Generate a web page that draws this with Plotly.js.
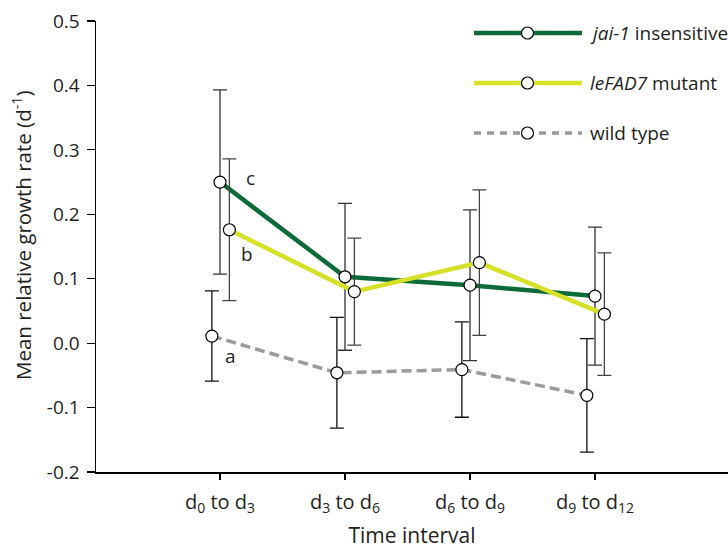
<!DOCTYPE html>
<html>
<head>
<meta charset="utf-8">
<script src="https://cdn.plot.ly/plotly-3.0.1.min.js"></script>
<style>html,body{margin:0;padding:0;background:#fff;}#chart{width:728px;height:549px;}</style>
</head>
<body>
<div id="chart"></div>
<script>
// ---- data ----
const categories = ['d<sub>0</sub> to d<sub>3</sub>', 'd<sub>3</sub> to d<sub>6</sub>', 'd<sub>6</sub> to d<sub>9</sub>', 'd<sub>9</sub> to d<sub>12</sub>'];
const jaiMean = [0.250, 0.103, 0.090, 0.073];
const jaiErr  = [0.143, 0.114, 0.117, 0.107];
const fadMean = [0.176, 0.080, 0.125, 0.045];
const fadErr  = [0.110, 0.083, 0.113, 0.095];
const wtMean  = [0.011, -0.046, -0.041, -0.081];
const wtErr   = [0.070, 0.086, 0.074, 0.088];
const sigLetters = ['c', 'b', 'a'];
const yTicks = [-0.2, -0.1, 0.0, 0.1, 0.2, 0.3, 0.4, 0.5];
const legendNames = ['<i>jai-1</i> insensitive', '<i>leFAD7</i> mutant', 'wild type'];
const yTitle = 'Mean relative growth rate (d<sup>-1</sup>)';
const xTitle = 'Time interval';

// ---- styles ----
const FONT = 'Open Sans, Lato, sans-serif';
const TXT = '#231f20';
const cGreen = '#0c6b38', cYellow = '#d6e026', cGray = '#9b9b9b';
const idx = categories.map((_, i) => i);
const offJai = 0, offFad = 0.075, offWt = -0.065;

function marker() { return {symbol: 'circle', size: 12, color: '#ffffff', line: {color: '#000000', width: 1.2}}; }
function err(arr, col) { return {type: 'data', array: arr, visible: true, color: col, thickness: 1.3, width: 7}; }

const traces = [
  {x: idx.map(i => i + offWt), y: wtMean, mode: 'lines+markers', line: {color: cGray, width: 3.5, dash: '10px,5px'},
   marker: marker(), error_y: err(wtErr, '#111'), showlegend: false, hoverinfo: 'y'},
  {x: idx.map(i => i + offJai), y: jaiMean, mode: 'lines+markers', line: {color: cGreen, width: 4.5},
   marker: marker(), error_y: err(jaiErr, '#333'), showlegend: false, hoverinfo: 'y'},
  {x: idx.map(i => i + offFad), y: fadMean, mode: 'lines+markers', line: {color: cYellow, width: 4.5},
   marker: marker(), error_y: err(fadErr, '#444'), showlegend: false, hoverinfo: 'y'}
];

// plot area geometry in px (for legend placement)
const W = 728, H = 549, mL = 96, mR = 0, mT = 21, mB = 77;
const pw = W - mL - mR, ph = H - mT - mB;
const px = v => (v - mL) / pw;
const py = v => (H - mB - v) / ph;

const legColors = [cGreen, cYellow, cGray];
const legWidths = [4.5, 4.5, 3.5];
const legDash = ['solid', 'solid', '7px,6px'];
const legY = [33, 83, 133];
const shapes = [], annotations = [];
legendNames.forEach((name, k) => {
  shapes.push({type: 'line', xref: 'paper', yref: 'paper', x0: px(474), x1: px(582), y0: py(legY[k]), y1: py(legY[k]),
    line: {color: legColors[k], width: legWidths[k], dash: legDash[k]}});
  shapes.push({type: 'circle', xref: 'paper', yref: 'paper', xsizemode: 'pixel', ysizemode: 'pixel',
    xanchor: px(527.5), yanchor: py(legY[k]), x0: -6, x1: 6, y0: -6, y1: 6,
    fillcolor: '#ffffff', line: {color: '#000000', width: 1.2}});
  annotations.push({xref: 'paper', yref: 'paper', x: px(588), y: py(legY[k]), xanchor: 'left', yanchor: 'middle',
    text: name, showarrow: false, font: {family: FONT, size: 19, color: TXT}});
});
// significance letters beside the first interval points
const letterPos = [[0.19, jaiMean[0] + 0.007], [0.155, fadMean[0] - 0.038], [0.02, wtMean[0] - 0.031]];
sigLetters.forEach((t, k) => annotations.push({x: letterPos[k][0], y: letterPos[k][1], xref: 'x', yref: 'y',
  text: t, showarrow: false, xanchor: 'left', yanchor: 'middle', font: {family: FONT, size: 19, color: TXT}}));
// y-axis title (placed as in the reference, slightly above the axis middle)
annotations.push({xref: 'paper', yref: 'paper', x: px(22), y: py(235), xanchor: 'center', yanchor: 'middle',
  textangle: -90, text: yTitle, showarrow: false, font: {family: FONT, size: 20.5, color: TXT}});

const layout = {
  width: W, height: H, margin: {l: mL, r: mR, t: mT, b: mB},
  paper_bgcolor: '#fff', plot_bgcolor: '#fff', showlegend: false,
  font: {family: FONT, color: TXT},
  xaxis: {range: [-0.992, 4.064], tickvals: idx, ticktext: categories, showgrid: false, zeroline: false,
    showline: true, linecolor: '#000', linewidth: 2, ticks: 'outside', ticklen: 6, tickwidth: 1.2, tickcolor: '#000',
    tickfont: {family: FONT, size: 20, color: TXT}, ticklabelstandoff: 5,
    title: {text: xTitle, font: {family: FONT, size: 21, color: TXT}, standoff: 17}},
  yaxis: {range: [-0.2, 0.5], tickvals: yTicks, ticktext: yTicks.map(v => v.toFixed(1)), showgrid: false, zeroline: false,
    showline: true, linecolor: '#000', linewidth: 1.5, ticks: 'outside', ticklen: 8, tickwidth: 1.2, tickcolor: '#000',
    tickfont: {family: FONT, size: 19, color: TXT}, ticklabelstandoff: 3},
  shapes: shapes, annotations: annotations
};

Plotly.newPlot('chart', traces, layout, {displayModeBar: false, staticPlot: true});
</script>
</body>
</html>
